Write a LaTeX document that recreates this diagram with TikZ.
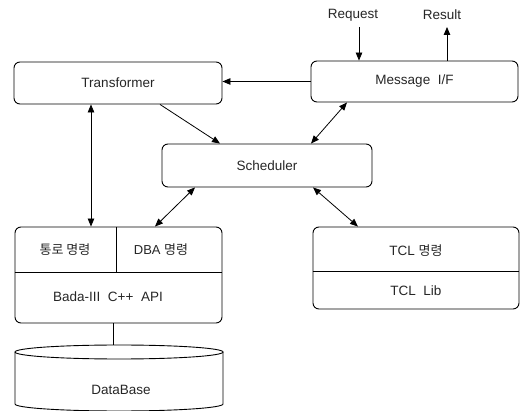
\documentclass[tikz,border=0pt]{standalone}
\usepackage{fontspec}
\setmainfont{Liberation Sans}
\newfontfamily\kr{Noto Sans CJK KR}
\usetikzlibrary{arrows.meta}
\begin{document}
\begin{tikzpicture}[x=1pt,y=-1pt,
  every node/.style={font=\fontsize{13.5}{15}\selectfont, text=black!85, inner sep=0pt},
  box/.style={draw, line width=0.9pt, rounded corners=6pt},
  conn/.style={line width=0.8pt},
  tip/.style={-{Triangle[length=8pt,width=6.5pt]}},
  dtip/.style={{Triangle[length=8pt,width=6.5pt]}-{Triangle[length=8pt,width=6.5pt]}},
  lab/.style={font=\fontsize{13.5}{15}\selectfont},
  krl/.style={font=\kr\fontsize{13}{15}\selectfont}]
\useasboundingbox (0,0) rectangle (522,411);

% boxes
\node[box, minimum width=208pt, minimum height=42pt] (trans) at (118,83) {Transformer};
\node[box, minimum width=207pt, minimum height=41pt] (msg) at (414.5,81.5) {Message\ \ I/F};
\node[box, minimum width=210pt, minimum height=43pt] (sched) at (267,165.5) {Scheduler};
\node[box, minimum width=207pt, minimum height=96pt] (bada) at (118.5,275) {};
\node[box, minimum width=206pt, minimum height=82pt] (tcl) at (416,268) {};

% bada internals
\draw[line width=0.9pt] (bada.west |- 0,272) -- (bada.east |- 0,272);
\draw[line width=0.8pt] (116,227) -- (116,272);
\node[krl] (tongro) at (65,250) {통로 명령};
\node[krl] (dba) at (161,250) {\fontspec{Liberation Sans}DBA {\kr 명령}};
\node (api) at (108,297) {Bada-III\ \ C++\ \ API};

% tcl internals
\draw[line width=0.9pt] (tcl.west |- 0,271) -- (tcl.east |- 0,271);
\node (tclcmd) at (416,251) {TCL {\kr\fontsize{13}{15}\selectfont 명령}};
\node (tcllib) at (416,291) {TCL\ \ Lib};

% database cylinder
\coordinate (dbtop) at (119,352);
\draw[line width=0.9pt] (15,352) arc[start angle=180, end angle=540, x radius=104pt, y radius=7pt];
\draw[line width=0.9pt] (15,352) -- (15,404) arc[start angle=180, end angle=360, x radius=104pt, y radius=7pt] -- (223,352);
\node (db) at (121,390) {DataBase};
\coordinate (dbin) at (113,345);

% request / result
\node (req) at (353,15) {Request};
\node (res) at (442,15) {Result};
\coordinate (reqa) at (359,27);
\coordinate (resa) at (447,27);

% connectors
\draw[conn, tip] (msg.west) -- (msg.west -| trans.east);
\draw[conn, dtip] (bada.north -| 91,0) -- (trans.south -| 91,0);
\draw[conn, tip] (trans.south -| 160,0) -- (sched.north -| 220,0);
\draw[conn, dtip] (msg.south -| 347,0) -- (sched.north -| 311,0);
\draw[conn, dtip] (sched.south -| 195,0) -- (bada.north -| 155,0);
\draw[conn, dtip] (sched.south -| 313,0) -- (tcl.north -| 358,0);
\draw[conn, tip] (reqa) -- (msg.north -| reqa);
\draw[conn, tip] (msg.north -| resa) -- (resa);
\draw[conn] (bada.south -| dbin) -- (dbin);
\end{tikzpicture}
\end{document}
